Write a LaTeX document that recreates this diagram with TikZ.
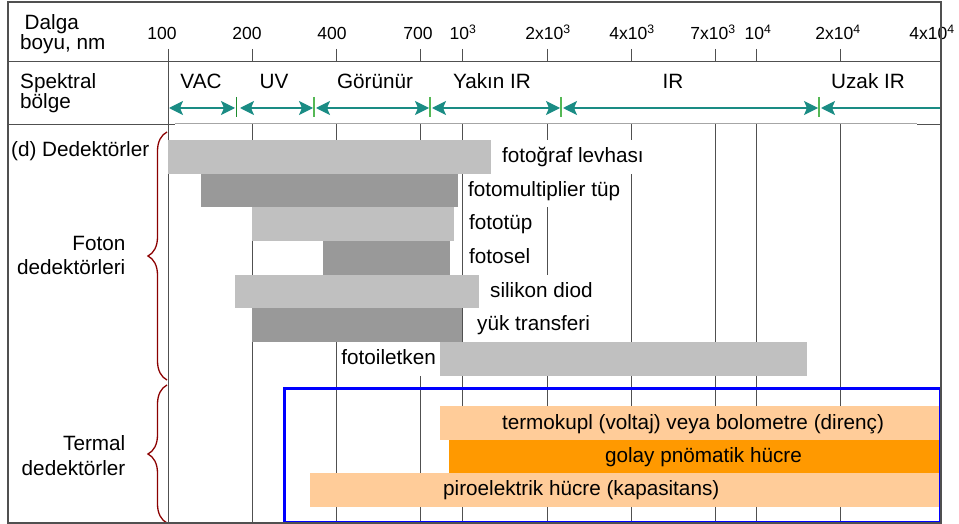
\documentclass[tikz,border=0pt]{standalone}
\usepackage{fontspec}
\setmainfont{Liberation Sans}
\usetikzlibrary{arrows.meta,decorations.pathreplacing}
\definecolor{barlight}{HTML}{C0C0C0}
\definecolor{bardark}{HTML}{999999}
\definecolor{orlight}{HTML}{FFCC99}
\definecolor{ordark}{HTML}{FF9900}
\definecolor{tealc}{HTML}{1A8C84}
\definecolor{sepg}{HTML}{55B855}
\definecolor{sepgd}{HTML}{1E8C2E}
\definecolor{brcred}{HTML}{8B0000}
\definecolor{gridc}{HTML}{505050}
\begin{document}
\begin{tikzpicture}[x=1pt,y=-1pt,
  lbl/.style={font=\fontsize{20.7}{24}\selectfont, inner sep=0pt},
  ticklbl/.style={font=\fontsize{17.5}{20}\selectfont, inner sep=0pt},
  gridln/.style={draw=gridc, line width=0.9pt},
  framel/.style={draw=gridc, line width=1.3pt},
  barL/.style={fill=barlight},
  barD/.style={fill=bardark},
  blab/.style={font=\fontsize{20.7}{24}\selectfont, fill=white, inner xsep=3pt, inner ysep=0pt,
     text height=15pt, text depth=3.5pt, minimum height=33.6pt, anchor=west},
  specarr/.style={draw=tealc, line width=1.2pt},
  sepln/.style={draw=sepg, line width=1.3pt},
  brc/.style={draw=brcred, line width=1.3pt, decorate, decoration={brace, amplitude=19pt}}
]
\useasboundingbox (0,0) rectangle (959,524);
% grid lines
\foreach \x in {252,336,420,462,547,631,715,756,840} {
  \draw[gridln] (\x,124) -- (\x,523);
  \draw[gridln] (\x,49) -- (\x,61);
}
\draw[gridln] (168,49) -- (168,523);
% header lines
\draw[gridln] (8,61) -- (941,61);
\draw[draw=gray!70, line width=1pt] (175,124) -- (917,124);
\draw[gridln] (8,124) -- (175,124);
\draw[gridln] (917,124) -- (941,124);

% header labels
\node[lbl, anchor=base west] (dalga) at (24.5,29.8) {Dalga};
\node[lbl, anchor=base west] (boyu) at (20,50) {boyu, nm};
\node[lbl, anchor=base west] (spek) at (20,89) {Spektral};
\node[lbl, anchor=base west] (bolge) at (20,109) {bölge};

% tick labels
\node[ticklbl, anchor=base] (t1) at (162,40) {100};
\node[ticklbl, anchor=base] (t2) at (247,40) {200};
\node[ticklbl, anchor=base] (t3) at (332,40) {400};
\node[ticklbl, anchor=base] (t4) at (418,40) {700};
\node[ticklbl, anchor=base] (t5) at (463,40) {10\textsuperscript{3}};
\node[ticklbl, anchor=base] (t6) at (548,40) {2x10\textsuperscript{3}};
\node[ticklbl, anchor=base] (t7) at (632,40) {4x10\textsuperscript{3}};
\node[ticklbl, anchor=base] (t8) at (713,40) {7x10\textsuperscript{3}};
\node[ticklbl, anchor=base] (t9) at (758,40) {10\textsuperscript{4}};
\node[ticklbl, anchor=base] (t10) at (838,40) {2x10\textsuperscript{4}};
\node[ticklbl, anchor=base] (t11) at (932,40) {4x10\textsuperscript{4}};

% spectral region labels
\node[lbl, anchor=base] (vac) at (201,89) {VAC};
\node[lbl, anchor=base] (uv) at (274,89) {UV};
\node[lbl, anchor=base] (gor) at (375,89) {Görünür};
\node[lbl, anchor=base] (yir) at (492,89) {Yakın IR};
\node[lbl, anchor=base] (ir) at (673,89) {IR};
\node[lbl, anchor=base] (uir) at (868,89) {Uzak IR};

% spectral arrows
\coordinate (a0) at (169,108);
\coordinate (a1l) at (235,108); \coordinate (a1r) at (240,108);
\coordinate (a2l) at (313,108); \coordinate (a2r) at (316,108);
\coordinate (a3l) at (429,108); \coordinate (a3r) at (432,108);
\coordinate (a4l) at (560,108); \coordinate (a4r) at (563,108);
\coordinate (a5l) at (818,108); \coordinate (a5r) at (821,108);
\coordinate (a6) at (941,108);
\tikzset{tip/.tip={Stealth[length=14pt,width=14pt,inset=3pt]}}
\draw[specarr, tip-tip] (a0) -- (a1l);
\draw[specarr, tip-tip] (a1r) -- (a2l);
\draw[specarr, tip-tip] (a2r) -- (a3l);
\draw[specarr, tip-tip] (a3r) -- (a4l);
\draw[specarr, tip-tip] (a4r) -- (a5l);
\draw[specarr, tip-] (a5r) -- (a6);
\draw[sepln, draw=sepgd] (236.5,97) -- (236.5,117);
\foreach \x in {314,430,561,819} { \draw[sepln] (\x,97) -- (\x,117); }

% photon detector bars
\path[barL] (168,140) rectangle (491,173.6);
\path[barD] (201,173.6) rectangle (458,207.3);
\path[barL] (252,207.3) rectangle (454,241);
\path[barD] (323,241) rectangle (450,274.6);
\path[barL] (235,274.6) rectangle (479,308.3);
\path[barD] (252,308.3) rectangle (462,342);
\path[barL] (440,342) rectangle (807,375.6);

\node[blab] (b1) at (499,156.8) {fotoğraf levhası};
\node[blab] (b2) at (465,190.5) {fotomultiplier tüp};
\node[blab] (b3) at (466,224.2) {fototüp};
\node[blab] (b4) at (466,257.8) {fotosel};
\node[blab] (b5) at (487,291.5) {silikon diod};
\node[blab] (b6) at (474,325.2) {yük transferi};
\node[blab, anchor=east] (b7) at (439,358.8) {fotoiletken};

% thermal detector bars
\path[fill=orlight] (440,406) rectangle (939,439.5);
\path[fill=ordark] (449,439.5) rectangle (939,473);
\path[fill=orlight] (310,473) rectangle (939,507);
\node[lbl, anchor=base] (th1) at (693,429) {termokupl (voltaj) veya bolometre (direnç)};
\node[lbl, anchor=base] (th2) at (703.5,462) {golay pnömatik hücre};
\node[lbl, anchor=base west] (th3) at (443,495.5) {piroelektrik hücre (kapasitans)};

% blue box
\draw[draw=blue, line width=3pt] (284.5,388) rectangle (940,522.5);

% left labels
\node[lbl, anchor=base west] (ded) at (11,157) {(d) Dedektörler};
\node[lbl, anchor=base east] (foton1) at (125.5,250) {Foton};
\node[lbl, anchor=base east] (foton2) at (125.5,274) {dedektörleri};
\node[lbl, anchor=base east] (term1) at (125.5,450) {Termal};
\node[lbl, anchor=base east] (term2) at (125.5,475) {dedektörler};

% braces
\coordinate (br1b) at (167,380);
\coordinate (br1t) at (167,132);
\coordinate (br2b) at (167,523);
\coordinate (br2t) at (167,385);
\draw[brc] (br1b) -- (br1t);
\draw[brc] (br2b) -- (br2t);

% outer frame
\draw[framel] (8,2) rectangle (941,523);
\end{tikzpicture}
\end{document}
